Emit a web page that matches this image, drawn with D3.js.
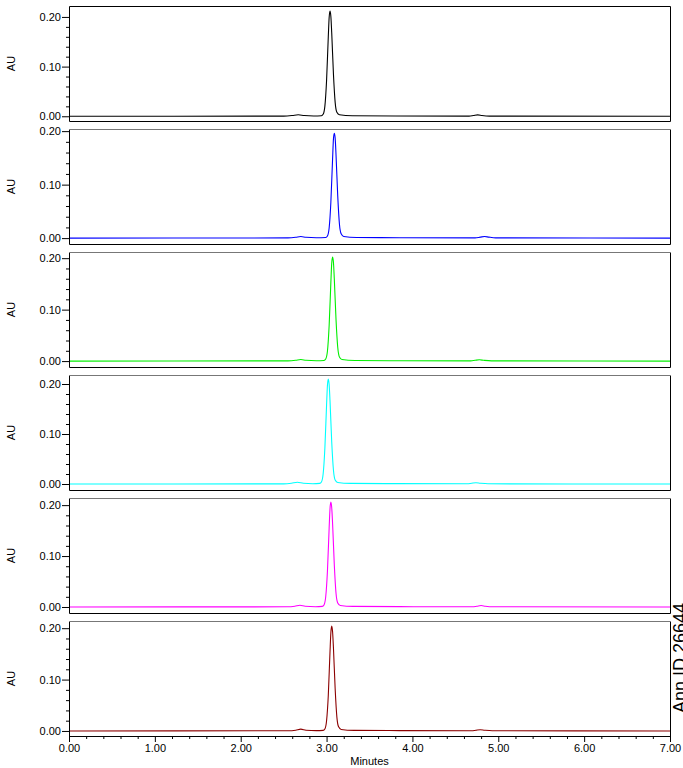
<!DOCTYPE html>
<html>
<head>
<meta charset="utf-8">
<script src="https://cdn.jsdelivr.net/npm/d3@7"></script>
<style>
  body { margin: 0; background: #fff; }
  svg { display: block; font-family: "Liberation Sans", Arial, sans-serif; }
</style>
</head>
<body>
<script>
// x axis
const minuteTicks = [0, 1, 2, 3, 4, 5, 6, 7];
const minuteMinor = [0.2, 0.4, 0.6, 0.8, 1.2, 1.4, 1.6, 1.8, 2.2, 2.4, 2.6, 2.8, 3.2, 3.4, 3.6, 3.8,
  4.2, 4.4, 4.6, 4.8, 5.2, 5.4, 5.6, 5.8, 6.2, 6.4, 6.6, 6.8];
// y axis (AU)
const auTicks = [0, 0.1, 0.2];
const auMinor = [0.02, 0.04, 0.06, 0.08, 0.12, 0.14, 0.16, 0.18];

// each panel has its own autoscaled range
const yDomains = [
  [-0.0095, 0.222],
  [-0.011, 0.204],
  [-0.0115, 0.212],
  [-0.012, 0.218],
  [-0.0118, 0.214],
  [-0.0098, 0.214]
];

const traceColors = ["#000000", "#0000ff", "#00ee00", "#00ffff", "#ff00ff", "#8b0000"];

// [minutes, AU]
const trace1 = [[0, 0], [2.50, 0.0003], [2.60, 0.0015], [2.67, 0.003], [2.74, 0.0015], [2.85, 0.0007],
  [2.94, 0.0012], [2.96, 0.004], [2.98, 0.020], [3.00, 0.072], [3.02, 0.160], [3.03, 0.199], [3.04, 0.212],
  [3.05, 0.201], [3.06, 0.168], [3.08, 0.085], [3.10, 0.028], [3.12, 0.008], [3.15, 0.003], [3.30, 0.0012],
  [3.80, 0.0007], [4.66, 0.0004], [4.71, 0.0015], [4.76, 0.0028], [4.81, 0.0015], [4.90, 0.0004], [7.00, 0]];

const trace2 = [[0, 0], [2.55, 0.0004], [2.64, 0.0015], [2.70, 0.003], [2.76, 0.0015], [2.88, 0.0006],
  [2.99, 0.0012], [3.01, 0.004], [3.03, 0.019], [3.05, 0.067], [3.07, 0.148], [3.08, 0.185], [3.09, 0.196],
  [3.10, 0.187], [3.11, 0.156], [3.13, 0.079], [3.15, 0.026], [3.17, 0.008], [3.20, 0.003], [3.35, 0.0012],
  [3.85, 0.0008], [4.73, 0.0005], [4.79, 0.0018], [4.84, 0.003], [4.89, 0.0018], [4.97, 0.0005], [7.00, 0]];

const trace3 = [[0, 0], [2.55, 0.0004], [2.64, 0.0015], [2.70, 0.003], [2.76, 0.0015], [2.88, 0.0006],
  [2.97, 0.0012], [2.99, 0.004], [3.01, 0.019], [3.03, 0.069], [3.05, 0.153], [3.06, 0.190], [3.07, 0.202],
  [3.08, 0.192], [3.09, 0.160], [3.11, 0.081], [3.13, 0.027], [3.15, 0.008], [3.18, 0.003], [3.33, 0.0012],
  [3.85, 0.0007], [4.68, 0.0004], [4.73, 0.0015], [4.78, 0.0025], [4.83, 0.0015], [4.92, 0.0004], [7.00, 0]];

const trace4 = [[0, 0], [2.50, 0.0003], [2.59, 0.0015], [2.66, 0.0035], [2.73, 0.0015], [2.84, 0.0006],
  [2.92, 0.0012], [2.94, 0.004], [2.96, 0.020], [2.98, 0.071], [3.00, 0.158], [3.01, 0.197], [3.02, 0.210],
  [3.03, 0.199], [3.04, 0.167], [3.06, 0.084], [3.08, 0.028], [3.10, 0.008], [3.13, 0.003], [3.28, 0.0012],
  [3.80, 0.0007], [4.64, 0.0004], [4.69, 0.0015], [4.74, 0.0025], [4.79, 0.0015], [4.88, 0.0004], [7.00, 0]];

const trace5 = [[0, 0], [2.54, 0.0004], [2.63, 0.0015], [2.69, 0.0035], [2.75, 0.0015], [2.87, 0.0006],
  [2.95, 0.0012], [2.97, 0.004], [2.99, 0.020], [3.01, 0.070], [3.03, 0.155], [3.04, 0.193], [3.05, 0.206],
  [3.06, 0.195], [3.07, 0.164], [3.09, 0.083], [3.11, 0.027], [3.13, 0.008], [3.16, 0.003], [3.31, 0.0012],
  [3.85, 0.0007], [4.70, 0.0004], [4.75, 0.0015], [4.80, 0.0028], [4.85, 0.0015], [4.94, 0.0004], [7.00, 0]];

const trace6 = [[0, 0], [2.55, 0.0004], [2.64, 0.0015], [2.70, 0.0035], [2.76, 0.0015], [2.88, 0.0006],
  [2.96, 0.0012], [2.98, 0.004], [3.00, 0.020], [3.02, 0.069], [3.04, 0.154], [3.05, 0.191], [3.06, 0.204],
  [3.07, 0.193], [3.08, 0.162], [3.10, 0.082], [3.12, 0.027], [3.14, 0.008], [3.17, 0.003], [3.32, 0.0012],
  [3.85, 0.0007], [4.69, 0.0004], [4.74, 0.0015], [4.79, 0.0025], [4.84, 0.0015], [4.93, 0.0004], [7.00, 0]];

const traces = [trace1, trace2, trace3, trace4, trace5, trace6];

const W = 683, H = 768;
const left = 69, right = 670;
const panelTop = 6, panelH = 115, panelStep = 123;

const svg = d3.select("body").append("svg")
  .attr("width", W)
  .attr("height", H);

const x = d3.scaleLinear().domain([0, 7]).range([left, right]);

traces.forEach((data, i) => {
  const top = panelTop + i * panelStep;
  const y = d3.scaleLinear().domain(yDomains[i]).range([top + panelH, top]);
  const g = svg.append("g");

  // y ticks, major then minor
  g.append("g")
    .attr("transform", "translate(" + left + ",0)")
    .call(d3.axisLeft(y).tickValues(auTicks).tickFormat(d3.format(".2f")).tickSize(7).tickPadding(1))
    .call(a => a.select(".domain").remove())
    .call(a => a.selectAll("text").attr("font-size", 11).attr("font-family", null).attr("fill", "#000"));
  g.append("g")
    .attr("transform", "translate(" + left + ",0)")
    .call(d3.axisLeft(y).tickValues(auMinor).tickFormat("").tickSize(3))
    .call(a => a.select(".domain").remove());

  g.append("text")
    .attr("transform", "translate(15," + (top + panelH / 2) + ") rotate(-90)")
    .attr("text-anchor", "middle")
    .attr("font-size", 11)
    .text("AU");

  const line = d3.line()
    .x(d => x(d[0]))
    .y(d => y(d[1]))
    .curve(d3.curveMonotoneX);

  g.append("path")
    .datum(data)
    .attr("fill", "none")
    .attr("stroke", traceColors[i])
    .attr("stroke-width", 1.1)
    .attr("d", line);

  // frame
  const x0 = left + 0.5, x1 = right + 0.5, y0 = top + 0.5, y1 = top + panelH + 0.5;
  g.append("path")
    .attr("d", `M${x0},${y0}V${y1}H${x1}V${y0}`)
    .attr("fill", "none").attr("stroke", "#000");
  g.append("path")
    .attr("d", `M${x0},${y0}H${x1}`)
    .attr("fill", "none").attr("stroke", i === 0 ? "#000" : "#777");

  if (i === traces.length - 1) {
    g.append("g")
      .attr("transform", "translate(0," + (top + panelH) + ")")
      .call(d3.axisBottom(x).tickValues(minuteTicks).tickFormat(d3.format(".2f")).tickSize(6).tickPadding(2))
      .call(a => a.select(".domain").remove())
      .call(a => a.selectAll("text").attr("font-size", 11).attr("font-family", null).attr("fill", "#000"));
    g.append("g")
      .attr("transform", "translate(0," + (top + panelH) + ")")
      .call(d3.axisBottom(x).tickValues(minuteMinor).tickFormat("").tickSize(3))
      .call(a => a.select(".domain").remove());
  }
});

svg.append("text")
  .attr("x", (left + right) / 2)
  .attr("y", 765)
  .attr("text-anchor", "middle")
  .attr("font-size", 11)
  .text("Minutes");

// report id printed sideways at the right edge, mostly cut off
svg.append("text")
  .attr("transform", "translate(686,713) rotate(-90)")
  .attr("font-size", 18)
  .text("Ann ID 26644");
</script>
</body>
</html>
